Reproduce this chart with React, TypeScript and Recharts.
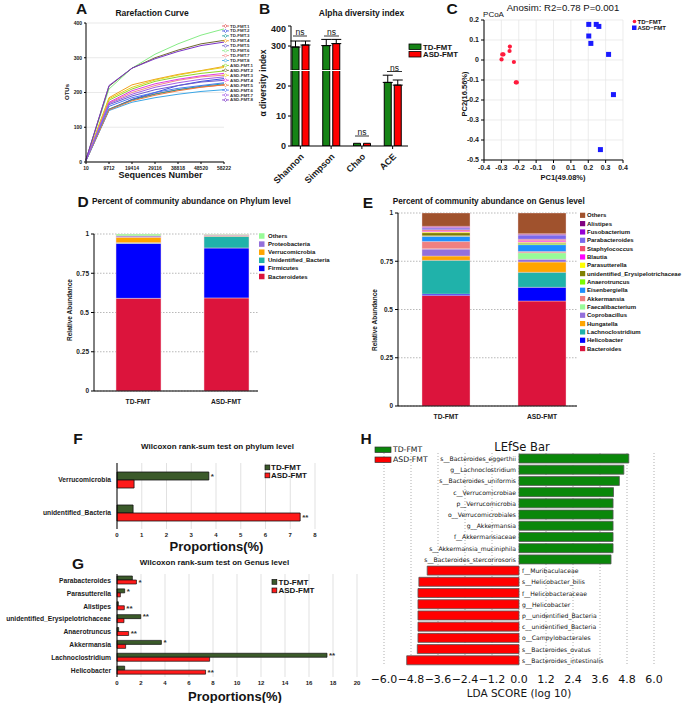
import React from "react";
import {
  LineChart, Line, BarChart, Bar, ScatterChart, Scatter, XAxis, YAxis,
  CartesianGrid, ErrorBar, LabelList, Cell,
} from "recharts";

const ARIAL = "'Liberation Sans', Arial, Helvetica, sans-serif";
const DEJAVU = "'DejaVu Sans', sans-serif";

// ---- A: rarefaction curves ----
const depths = ["10", "9712", "19414", "29116", "38818", "48520", "58222"];
const rareNames = [
  "TD-FMT.1", "TD-FMT.2", "TD-FMT.3", "TD-FMT.4", "TD-FMT.5", "TD-FMT.6", "TD-FMT.7", "TD-FMT.8",
  "ASD-FMT.1", "ASD-FMT.2", "ASD-FMT.3", "ASD-FMT.4", "ASD-FMT.5", "ASD-FMT.6", "ASD-FMT.7", "ASD-FMT.8",
];
const rareColors = [
  "#e05252", "#3b4fe0", "#1f9e9e", "#f0a020", "#6a5acd", "#86ec86", "#f08a8a", "#3aa6e6",
  "#8fd42a", "#6f6a2e", "#e6d21e", "#e03ee0", "#f07a3c", "#4a7af0", "#a45ee6", "#7b35c8",
];
const td1 = [4, 152, 180, 196, 208, 216, 222];
const td2 = [5, 150, 180, 200, 220, 232, 240];
const td3 = [4, 152, 178, 195, 208, 218, 225];
const td4 = [6, 185, 222, 238, 252, 263, 275];
const td5 = [5, 165, 190, 208, 220, 230, 235];
const td6 = [7, 210, 270, 310, 340, 365, 383];
const td7 = [5, 170, 200, 220, 235, 245, 250];
const td8 = [3, 148, 172, 185, 195, 203, 208];
const asd1 = [6, 178, 210, 232, 245, 255, 262];
const asd2 = [7, 218, 270, 300, 322, 340, 350];
const asd3 = [6, 182, 215, 236, 250, 262, 272];
const asd4 = [5, 172, 205, 225, 238, 248, 255];
const asd5 = [4, 150, 176, 192, 205, 215, 222];
const asd6 = [5, 160, 185, 200, 212, 220, 228];
const asd7 = [5, 168, 195, 215, 228, 238, 245];
const asd8 = [7, 220, 270, 297, 318, 335, 345];
const rareSeries = [td1, td2, td3, td4, td5, td6, td7, td8, asd1, asd2, asd3, asd4, asd5, asd6, asd7, asd8];
const rareRows = depths.map((d, j) => {
  const row: any = { depth: d };
  rareSeries.forEach((s, i) => { row["s" + i] = s[j]; });
  return row;
});

// ---- B: alpha diversity ----
const alphaIndex = ["Shannon", "Simpson", "Chao", "ACE"];
const tdAlpha = [295, 302, 0.9, 21.2];
const asdAlpha = [305, 312, 0.9, 20.3];
const tdAlphaErr = [30, 31, 0, 2.4];
const asdAlphaErr = [20, 21, 0, 1.7];
const alphaUpper = alphaIndex.map((n, i) => ({
  name: n,
  td: tdAlpha[i] >= 200 ? tdAlpha[i] : null,
  asd: asdAlpha[i] >= 200 ? asdAlpha[i] : null,
  tdE: tdAlpha[i] >= 200 ? [0, tdAlphaErr[i]] : null,
  asdE: asdAlpha[i] >= 200 ? [0, asdAlphaErr[i]] : null,
}));
const alphaLower = alphaIndex.map((n, i) => ({
  name: n,
  td: tdAlpha[i],
  asd: asdAlpha[i],
  tdE: tdAlpha[i] < 25 && tdAlphaErr[i] > 0 ? [0, tdAlphaErr[i]] : null,
  asdE: asdAlpha[i] < 25 && asdAlphaErr[i] > 0 ? [0, asdAlphaErr[i]] : null,
}));

// ---- C: PCoA ----
const tdPC1 = [-0.251, -0.253, -0.295, -0.288, -0.299, -0.228, -0.217, -0.211];
const tdPC2 = [0.067, 0.045, 0.028, 0.028, 0.003, -0.01, -0.112, -0.112];
const asdPC1 = [0.203, 0.203, 0.246, 0.261, 0.215, 0.317, 0.345, 0.27];
const asdPC2 = [0.178, 0.12, 0.178, 0.168, 0.083, 0.028, -0.173, -0.448];
const pcTicksX = [-0.4, -0.3, -0.2, -0.1, 0, 0.1, 0.2, 0.3, 0.4];
const pcTicksY = [-0.5, -0.4, -0.3, -0.2, -0.1, 0, 0.1, 0.2];
const tdPts = tdPC1.map((x, i) => ({ x, y: tdPC2[i] }));
const asdPts = asdPC1.map((x, i) => ({ x, y: asdPC2[i] }));

// ---- D: phylum composition ----
const groups = ["TD-FMT", "ASD-FMT"];
const phyla = ["Bacteroidetes", "Firmicutes", "Unidentified_Bacteria", "Verrucomicrobia", "Proteobacteria", "Others"];
const phylumColors = ["#dc143c", "#0000ff", "#20b2aa", "#ffa500", "#9370db", "#98fb98"];
const tdPhylum = [0.59, 0.35, 0.005, 0.034, 0.009, 0.012];
const asdPhylum = [0.593, 0.318, 0.074, 0.006, 0.005, 0.004];

// ---- E: genus composition ----
const genera = [
  "Bacteroides", "Helicobacter", "Lachnoclostridium", "Hungatella", "Coprobacillus", "Faecalibacterium",
  "Akkermansia", "Eisenbergiella", "Anaerotruncus", "unidentified_Erysipelotrichaceae", "Parasutterella",
  "Blautia", "Staphylococcus", "Parabacteroides", "Fusobacterium", "Alistipes", "Others",
];
const genusColors = [
  "#dc143c", "#0000ff", "#20b2aa", "#ffa500", "#9370db", "#98fb98", "#f08080", "#1e90ff", "#7cfc00",
  "#808000", "#ffff00", "#ff00ff", "#f0506e", "#7b68ee", "#9400d3", "#800080", "#a0522d",
];
const tdGenus = [0.573, 0.007, 0.175, 0.022, 0.036, 0.002, 0.037, 0.027, 0.003, 0.016, 0.005, 0.004, 0.006, 0.01, 0.004, 0.004, 0.069];
const asdGenus = [0.544, 0.071, 0.078, 0.053, 0.014, 0.034, 0.006, 0.036, 0.006, 0.005, 0.004, 0.006, 0.007, 0.022, 0.003, 0.004, 0.107];

const makeStack = (keys: string[], a: number[], b: number[]) =>
  groups.map((g, gi) => {
    const row: any = { group: g };
    keys.forEach((k, i) => { row[k] = gi === 0 ? a[i] : b[i]; });
    return row;
  });
const phylumRows = makeStack(phyla, tdPhylum, asdPhylum);
const genusRows = makeStack(genera, tdGenus, asdGenus);

// ---- F: Wilcoxon phylum ----
const fTaxa = ["Verrucomicrobia", "unidentified_Bacteria"];
const fTd = [3.71, 0.65];
const fAsd = [0.69, 7.4];
const fTdSig = ["*", ""];
const fAsdSig = ["", "**"];
const fRows = fTaxa.map((n, i) => ({ name: n, td: fTd[i], asd: fAsd[i], tdSig: fTdSig[i], asdSig: fAsdSig[i] }));

// ---- G: Wilcoxon genus ----
const gTaxa = ["Parabacteroides", "Parasutterella", "Alistipes", "unidentified_Erysipelotrichaceae", "Anaerotruncus", "Akkermansia", "Lachnoclostridium", "Helicobacter"];
const gTd = [1.28, 0.64, 0.11, 1.98, 0.14, 3.7, 17.5, 0.64];
const gAsd = [1.62, 0.28, 0.61, 0.58, 0.97, 0.72, 7.72, 7.38];
const gTdSig = ["", "*", "", "**", "", "*", "**", ""];
const gAsdSig = ["*", "", "**", "", "**", "", "", "**"];
const gRows = gTaxa.map((n, i) => ({ name: n, td: gTd[i], asd: gAsd[i], tdSig: gTdSig[i], asdSig: gAsdSig[i] }));

// ---- H: LEfSe ----
const ldaTaxa = [
  "s__Bacteroides_eggerthii", "g__Lachnoclostridium", "s__Bacteroides_uniformis", "c__Verrucomicrobiae",
  "p__Verrucomicrobia", "o__Verrucomicrobiales", "g__Akkermansia", "f__Akkermansiaceae",
  "s__Akkermansia_muciniphila", "s__Bacteroides_stercorirosoris", "f__Muribaculaceae", "s__Helicobacter_bilis",
  "f__Helicobacteraceae", "g__Helicobacter", "p__unidentified_Bacteria", "c__unidentified_Bacteria",
  "o__Campylobacterales", "s__Bacteroides_ovatus", "s__Bacteroides_intestinalis",
];
const ldaScores = [4.88, 4.66, 4.46, 4.2, 4.18, 4.18, 4.18, 4.18, 4.18, 4.09, -4.08, -4.45, -4.49, -4.49, -4.49, -4.49, -4.49, -4.52, -4.99];
const ldaTicks = [-6, -4.8, -3.6, -2.4, -1.2, 0, 1.2, 2.4, 3.6, 4.8, 6];
const ldaRows = ldaTaxa.map((n, i) => ({ name: n, lda: ldaScores[i] }));

const fmtLda = (v: number) => (v < 0 ? "\u2212" : "") + Math.abs(v).toFixed(1);
const fmtNum = (v: number) => String(v);

const tickStyle = (size: number, extra: any = {}) => ({
  fontSize: size, fontWeight: "bold", fill: "#1a1a1a", fontFamily: ARIAL, ...extra,
});

const Box = ({ x, y, children }: { x: number; y: number; children: React.ReactNode }) => (
  <div style={{ position: "absolute", left: x, top: y }}>{children}</div>
);

const T = (p: {
  x: number; y: number; children: React.ReactNode; size: number; bold?: boolean;
  anchor?: "start" | "middle" | "end"; rot?: number; font?: string; fill?: string;
}) => (
  <text
    x={p.x} y={p.y} fontSize={p.size} fontWeight={p.bold ? "bold" : "normal"}
    textAnchor={p.anchor || "middle"} dominantBaseline="central"
    fontFamily={p.font || ARIAL} fill={p.fill || "#141414"}
    transform={p.rot ? `rotate(${p.rot} ${p.x} ${p.y})` : undefined}
  >
    {p.children}
  </text>
);

const redDot = (p: any) => <circle cx={p.cx} cy={p.cy} r={2.1} fill="#ff1a3c" />;
const blueSq = (p: any) => <rect x={p.cx - 2.5} y={p.cy - 2.5} width={5} height={5} fill="#1a1aff" />;

// rotated category tick for panel B
const AlphaTick = (p: any) => {
  const x = p.x + 2;
  const y = p.y + 4;
  return (
    <text x={x} y={y} transform={`rotate(-45 ${x} ${y})`} textAnchor="end" dominantBaseline="central"
      fontSize={9} fontWeight="bold" fontFamily={ARIAL} fill="#1a1a1a">
      {p.payload.value}
    </text>
  );
};

const ldaLabel = (p: any) => {
  const { x, y, width, height, value, index } = p;
  const v = ldaScores[index];
  const left = Math.min(x, x + width);
  const right = Math.max(x, x + width);
  const zero = v >= 0 ? left : right;
  return (
    <text
      x={v >= 0 ? zero - 3 : zero + 3} y={y + height / 2} textAnchor={v >= 0 ? "end" : "start"}
      dominantBaseline="central" fontSize={6.1} fontFamily={DEJAVU} fill="#111"
    >
      {value}
    </text>
  );
};

const starStyle = { fontSize: 8, fontWeight: "bold", fill: "#333", fontFamily: ARIAL };

export default function App() {
  return (
    <div style={{ position: "absolute", left: 0, top: 0, width: 696, height: 703, background: "#fff", overflow: "hidden", fontFamily: ARIAL }}>
      {/* A */}
      <Box x={56} y={18}>
        <LineChart width={183} height={158} data={rareRows} margin={{ top: 5, right: 15, bottom: 0, left: 0 }}>
          <CartesianGrid vertical={false} stroke="#dadada" strokeWidth={0.6} />
          <XAxis dataKey="depth" height={14} interval={0} tickSize={2} stroke="#000" tick={tickStyle(5)} />
          <YAxis width={30} domain={[0, 400]} ticks={[0, 100, 200, 300, 400]} tickSize={2} stroke="#000" tick={tickStyle(5)} />
          {rareSeries.map((_, i) => (
            <Line key={rareNames[i]} name={rareNames[i]} type="linear" dataKey={"s" + i} stroke={rareColors[i]} strokeWidth={1} dot={false} isAnimationActive={false} />
          ))}
        </LineChart>
      </Box>

      {/* B upper */}
      <Box x={266} y={24}>
        <BarChart width={145} height={46} data={alphaUpper} margin={{ top: 2, right: 3, bottom: 0, left: 0 }} barSize={7} barGap={3}>
          <XAxis dataKey="name" hide padding={{ left: -6, right: 0 }} />
          <YAxis width={25} domain={[180, 400]} ticks={[200, 250, 300, 350, 400]} allowDataOverflow tickSize={3} stroke="#000" tick={tickStyle(9)} />
          <Bar dataKey="td" fill="#168416" stroke="#000" strokeWidth={1} isAnimationActive={false}>
            <ErrorBar dataKey="tdE" width={5} stroke="#000" strokeWidth={1} direction="y" />
          </Bar>
          <Bar dataKey="asd" fill="#ff0000" stroke="#000" strokeWidth={1} isAnimationActive={false}>
            <ErrorBar dataKey="asdE" width={5} stroke="#000" strokeWidth={1} direction="y" />
          </Bar>
        </BarChart>
      </Box>
      {/* B lower */}
      <Box x={266} y={69}>
        <BarChart width={145} height={121} data={alphaLower} margin={{ top: 2, right: 3, bottom: 0, left: 0 }} barSize={7} barGap={3}>
          <XAxis dataKey="name" height={44} interval={0} padding={{ left: -6, right: 0 }} tickSize={3} stroke="#000" tick={<AlphaTick />} />
          <YAxis width={25} domain={[0, 25]} ticks={[0, 10, 20]} allowDataOverflow tickSize={3} stroke="#000" tick={tickStyle(9)} />
          <Bar dataKey="td" fill="#168416" stroke="#000" strokeWidth={1} isAnimationActive={false}>
            <ErrorBar dataKey="tdE" width={5} stroke="#000" strokeWidth={1} direction="y" />
          </Bar>
          <Bar dataKey="asd" fill="#ff0000" stroke="#000" strokeWidth={1} isAnimationActive={false}>
            <ErrorBar dataKey="asdE" width={5} stroke="#000" strokeWidth={1} direction="y" />
          </Bar>
        </BarChart>
      </Box>

      {/* C */}
      <Box x={454} y={15}>
        <ScatterChart width={177} height={159} margin={{ top: 5, right: 8, bottom: 0, left: 0 }}>
          <CartesianGrid stroke="#e4e4e4" strokeWidth={0.7} />
          <XAxis type="number" dataKey="x" domain={[-0.4, 0.4]} ticks={pcTicksX} interval={0} height={14} tickSize={3} stroke="#000" tickFormatter={fmtNum} tick={tickStyle(7)} />
          <YAxis type="number" dataKey="y" domain={[-0.5, 0.2]} ticks={pcTicksY} interval={0} width={30} tickSize={3} stroke="#000" tickFormatter={fmtNum} tick={tickStyle(7)} />
          <Scatter data={tdPts} shape={redDot} isAnimationActive={false} />
          <Scatter data={asdPts} shape={blueSq} isAnimationActive={false} />
        </ScatterChart>
      </Box>

      {/* D */}
      <Box x={74} y={230}>
        <BarChart width={187} height={177} data={phylumRows} margin={{ top: 4, right: 3, bottom: 0, left: 0 }} barSize={45}>
          <CartesianGrid vertical={false} stroke="#8a8a8a" strokeDasharray="1.5 1.5" strokeWidth={0.6} />
          <XAxis dataKey="group" height={16} interval={0} padding={{ left: 0, right: -12 }} tickLine={false} stroke="#000" tick={tickStyle(6.7)} />
          <YAxis width={20} domain={[0, 1]} ticks={[0, 0.25, 0.5, 0.75, 1]} allowDataOverflow interval={0} tickSize={3} stroke="#000" tickFormatter={fmtNum} tick={tickStyle(6.5)} />
          {phyla.map((p, i) => (
            <Bar key={p} dataKey={p} stackId="a" fill={phylumColors[i]} stroke="#f6d6dc" strokeWidth={0.5} isAnimationActive={false} />
          ))}
        </BarChart>
      </Box>

      {/* E */}
      <Box x={376} y={209}>
        <BarChart width={204} height={213} data={genusRows} margin={{ top: 4, right: 3, bottom: 0, left: 0 }} barSize={48}>
          <CartesianGrid vertical={false} stroke="#8a8a8a" strokeDasharray="1.5 1.5" strokeWidth={0.6} />
          <XAxis dataKey="group" height={16} interval={0} padding={{ left: 0, right: -13 }} tickLine={false} stroke="#000" tick={tickStyle(6.7)} />
          <YAxis width={22} domain={[0, 1]} ticks={[0, 0.25, 0.5, 0.75, 1]} allowDataOverflow interval={0} tickSize={3} stroke="#000" tickFormatter={fmtNum} tick={tickStyle(6.5)} />
          {genera.map((g, i) => (
            <Bar key={g} dataKey={g} stackId="a" fill={genusColors[i]} stroke="#f6d6dc" strokeWidth={0.4} isAnimationActive={false} />
          ))}
        </BarChart>
      </Box>

      {/* F */}
      <Box x={0} y={460}>
        <BarChart layout="vertical" width={320} height={83} data={fRows} margin={{ top: 3, right: 5, bottom: 0, left: 0 }} barSize={8} barGap={0}>
          <CartesianGrid horizontal={false} stroke="#d4d4d4" strokeWidth={0.7} />
          <XAxis type="number" domain={[0, 8]} ticks={[0, 1, 2, 3, 4, 5, 6, 7, 8]} interval={0} height={14} axisLine={false} tickLine={false} tickSize={2} tick={tickStyle(6)} />
          <YAxis type="category" dataKey="name" width={117} tickLine={false} tickSize={4} tickMargin={2} stroke="#000" tick={tickStyle(6.7)} />
          <Bar dataKey="td" fill="#3b5a2a" stroke="#111" strokeWidth={0.8} isAnimationActive={false}>
            <LabelList dataKey="tdSig" position="right" offset={2} style={starStyle} />
          </Bar>
          <Bar dataKey="asd" fill="#ff1a1a" stroke="#111" strokeWidth={0.8} isAnimationActive={false}>
            <LabelList dataKey="asdSig" position="right" offset={2} style={starStyle} />
          </Bar>
        </BarChart>
      </Box>

      {/* G */}
      <Box x={0} y={571}>
        <BarChart layout="vertical" width={362} height={120} data={gRows} margin={{ top: 3, right: 5, bottom: 0, left: 0 }} barSize={4} barGap={0}>
          <CartesianGrid horizontal={false} stroke="#d4d4d4" strokeWidth={0.7} />
          <XAxis type="number" domain={[0, 20]} ticks={[0, 2, 4, 6, 8, 10, 12, 14, 16, 18, 20]} interval={0} height={14} axisLine={false} tickLine={false} tickSize={2} tick={tickStyle(6)} />
          <YAxis type="category" dataKey="name" width={117} interval={0} tickLine={false} tickSize={4} tickMargin={2} stroke="#000" tick={tickStyle(6.7)} />
          <Bar dataKey="td" fill="#3b5a2a" stroke="#111" strokeWidth={0.7} isAnimationActive={false}>
            <LabelList dataKey="tdSig" position="right" offset={2} style={starStyle} />
          </Bar>
          <Bar dataKey="asd" fill="#ff1a1a" stroke="#111" strokeWidth={0.7} isAnimationActive={false}>
            <LabelList dataKey="asdSig" position="right" offset={2} style={starStyle} />
          </Bar>
        </BarChart>
      </Box>

      {/* H */}
      <Box x={364} y={450}>
        <BarChart layout="vertical" width={300} height={246} data={ldaRows} margin={{ top: 3, right: 10, bottom: 0, left: 20 }} barSize={9}>
          <CartesianGrid horizontal={false} stroke="#8c8c8c" strokeDasharray="1 2" strokeWidth={0.7} />
          <XAxis type="number" domain={[-6, 6]} ticks={ldaTicks} interval={0} height={30} axisLine={false} tickLine={false} tickSize={7} tickFormatter={fmtLda} tick={{ fontSize: 11, fontFamily: DEJAVU, fill: "#111" }} />
          <YAxis type="category" dataKey="name" hide />
          <Bar dataKey="lda" stroke="#555" strokeWidth={0.8} isAnimationActive={false}>
            {ldaRows.map((r, i) => (
              <Cell key={i} fill={r.lda > 0 ? "#0a870a" : "#ff0000"} />
            ))}
            <LabelList dataKey="name" content={ldaLabel} />
          </Bar>
        </BarChart>
      </Box>

      {/* titles, legends, annotations */}
      <svg width={696} height={703} style={{ position: "absolute", left: 0, top: 0, pointerEvents: "none" }}>
        {/* panel letters */}
        <T x={81.5} y={8} size={15.5} bold>A</T>
        <T x={264.5} y={8} size={15.5} bold>B</T>
        <T x={452} y={8.5} size={15.5} bold>C</T>
        <T x={83} y={201} size={15.5} bold>D</T>
        <T x={368} y={202} size={15.5} bold>E</T>
        <T x={78} y={438} size={15.5} bold>F</T>
        <T x={78} y={563} size={15.5} bold>G</T>
        <T x={366} y={438} size={15.5} bold>H</T>

        {/* A */}
        <T x={152} y={13} size={8.5} bold>Rarefaction Curve</T>
        <T x={160.5} y={174.5} size={9} bold>Sequences Number</T>
        <T x={67} y={92} size={6} bold rot={-90}>OTUs</T>
        {rareNames.map((n, i) => {
          const y = 26 + i * 4.93;
          return (
            <g key={n}>
              <line x1={222} x2={229} y1={y} y2={y} stroke={rareColors[i]} strokeWidth={0.8} />
              <polygon points={`${225.5},${y - 1.6} ${227.1},${y} ${225.5},${y + 1.6} ${223.9},${y}`} fill="#fff" stroke={rareColors[i]} strokeWidth={0.7} />
              <T x={230} y={y} size={4.4} bold anchor="start" fill="#333">{n}</T>
            </g>
          );
        })}

        {/* B */}
        <T x={361.5} y={13} size={8.5} bold>Alpha diversity index</T>
        <T x={263} y={83} size={8.5} bold rot={-90}>α diversity index</T>
        <line x1={293} x2={307} y1={36} y2={36} stroke="#000" strokeWidth={0.8} />
        <T x={300} y={32} size={8.5}>ns</T>
        <line x1={324} x2={339} y1={36} y2={36} stroke="#000" strokeWidth={0.8} />
        <T x={331.5} y={32} size={8.5}>ns</T>
        <line x1={355} x2={369} y1={136} y2={136} stroke="#000" strokeWidth={0.8} />
        <T x={362} y={132} size={8.5}>ns</T>
        <line x1={387} x2={402} y1={71.5} y2={71.5} stroke="#000" strokeWidth={0.8} />
        <T x={394.5} y={67.5} size={8.5}>ns</T>
        <rect x={409} y={44} width={12} height={5.5} fill="#168416" stroke="#000" strokeWidth={0.8} />
        <T x={423} y={47} size={7.8} bold anchor="start">TD-FMT</T>
        <rect x={409} y={51.5} width={12} height={5.5} fill="#ff0000" stroke="#000" strokeWidth={0.8} />
        <T x={423} y={54.5} size={7.8} bold anchor="start">ASD-FMT</T>

        {/* C */}
        <T x={563} y={7} size={9.6}>Anosim: R2=0.78   P=0.001</T>
        <T x={493.5} y={14.5} size={8}>PCoA</T>
        <T x={563} y={177} size={7.5} bold>PC1(49.08%)</T>
        <T x={464} y={94} size={7.5} bold rot={-90}>PC2(16.56%)</T>
        <circle cx={634.5} cy={21.5} r={1.8} fill="#ff1a3c" />
        <T x={637.5} y={21.5} size={6} bold anchor="start">TD−FMT</T>
        <rect x={632} y={25.5} width={4.5} height={4.5} fill="#1a1aff" />
        <T x={637.5} y={28} size={6} bold anchor="start">ASD−FMT</T>

        {/* D */}
        <T x={92} y={200.5} size={8.3} bold anchor="start">Percent of community abundance on Phylum level</T>
        <T x={69} y={310} size={6.5} bold rot={-90}>Relative Abundance</T>
        {phyla.slice().reverse().map((p, i) => {
          const y = 236 + i * 8.1;
          const c = phylumColors[phyla.length - 1 - i];
          return (
            <g key={p}>
              <rect x={259} y={y - 2.75} width={5.5} height={5.5} fill={c} />
              <T x={268} y={y} size={6} bold anchor="start">{p}</T>
            </g>
          );
        })}

        {/* E */}
        <T x={392.7} y={201.5} size={8.2} bold anchor="start">Percent of community abundance on Genus level</T>
        <T x={374.5} y={320} size={6.5} bold rot={-90}>Relative Abundance</T>
        {genera.slice().reverse().map((g, i) => {
          const y = 215.3 + i * 8.33;
          const c = genusColors[genera.length - 1 - i];
          return (
            <g key={g}>
              <rect x={580} y={y - 2.6} width={5.2} height={5.2} fill={c} />
              <T x={587} y={y} size={6} bold anchor="start">{g}</T>
            </g>
          );
        })}

        {/* F */}
        <T x={217.5} y={446.5} size={8} bold>Wilcoxon rank-sum test on phylum level</T>
        <T x={216.5} y={546} size={13} bold>Proportions(%)</T>
        <rect x={265} y={465} width={4.8} height={4.8} fill="#3b5a2a" stroke="#111" strokeWidth={0.7} />
        <T x={271} y={467.5} size={8} bold anchor="start">TD-FMT</T>
        <rect x={265} y={473} width={4.8} height={4.8} fill="#ff1a1a" stroke="#111" strokeWidth={0.7} />
        <T x={271} y={475.5} size={8} bold anchor="start">ASD-FMT</T>

        {/* G */}
        <T x={214.5} y={562} size={8} bold>Wilcoxon rank-sum test on Genus level</T>
        <T x={235} y={696} size={13} bold>Proportions(%)</T>
        <rect x={272} y={579.5} width={4.8} height={4.8} fill="#3b5a2a" stroke="#111" strokeWidth={0.7} />
        <T x={278.5} y={582} size={8} bold anchor="start">TD-FMT</T>
        <rect x={272} y={588} width={4.8} height={4.8} fill="#ff1a1a" stroke="#111" strokeWidth={0.7} />
        <T x={278.5} y={590.5} size={8} bold anchor="start">ASD-FMT</T>

        {/* H */}
        <T x={522} y={447} size={11.5} font={DEJAVU}>LEfSe Bar</T>
        <T x={519} y={693} size={10.5} font={DEJAVU}>LDA SCORE (log 10)</T>
        <rect x={375} y={447} width={16} height={5.5} fill="#0a870a" stroke="#333" strokeWidth={0.7} />
        <T x={393} y={449.7} size={7.7} font={DEJAVU} anchor="start">TD-FMT</T>
        <rect x={375} y={457} width={16} height={5.5} fill="#ff0000" stroke="#333" strokeWidth={0.7} />
        <T x={393} y={459.7} size={7.7} font={DEJAVU} anchor="start">ASD-FMT</T>
      </svg>
    </div>
  );
}
